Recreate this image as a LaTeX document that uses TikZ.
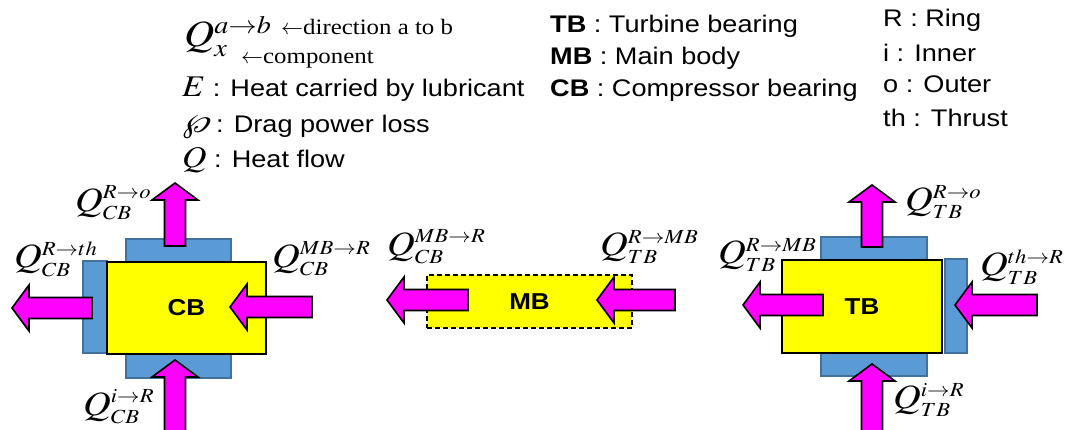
\documentclass[tikz,border=0pt]{standalone}
\usepackage{mathptmx}
\usepackage{graphicx}
\usepackage{fontspec}
\setmainfont{Liberation Sans}[FakeStretch=1.13]
\newfontfamily\timesf{Liberation Serif}[FakeStretch=1.13]
\DeclareMathSizes{34}{34}{20}{15}
\DeclareMathSizes{30}{30}{20}{15}
\DeclareMathSizes{37}{37}{25}{18}
\usetikzlibrary{calc}
\definecolor{arrowmag}{RGB}{255,0,255}
\definecolor{boxyellow}{RGB}{255,255,0}
\definecolor{platefill}{RGB}{91,155,213}
\definecolor{plateedge}{RGB}{65,113,156}
\newcommand{\stretchq}[1]{\scalebox{1.13}[1]{#1}}
\newcommand{\legmath}[1]{\stretchq{\fontsize{30}{32}\selectfont$#1$}}
\tikzset{
  legtext/.style={inner sep=0pt, anchor=base west, font=\fontsize{24}{28}\selectfont},
  legsmall/.style={inner sep=0pt, anchor=base west, font=\timesf\fontsize{22}{26}\selectfont},
  qlabel/.style={inner sep=0pt, anchor=west, font=\fontsize{34}{38}\selectfont},
  qlegend/.style={inner sep=0pt, anchor=base west, font=\fontsize{37}{40}\selectfont},
  plate/.style={draw=plateedge, fill=platefill, line width=1.2pt, inner sep=0pt},
  ybox/.style={draw=black, fill=boxyellow, line width=1.8pt, inner sep=0pt,
    font=\bfseries\fontsize{23}{27}\selectfont},
  mbbox/.style={ybox, dashed, dash pattern=on 5pt off 3pt},
  blockarr/.style={draw=black, fill=arrowmag, line width=1.6pt, line join=miter,
    to path={
      ($(\tikztostart)!10.5pt!90:(\tikztotarget)$)
      -- ($(\tikztotarget)!17pt!(\tikztostart)!10.5pt!90:(\tikztotarget)$)
      -- ($(\tikztotarget)!17pt!(\tikztostart)!23pt!90:(\tikztotarget)$)
      -- (\tikztotarget)
      -- ($(\tikztotarget)!17pt!(\tikztostart)!23pt!-90:(\tikztotarget)$)
      -- ($(\tikztotarget)!17pt!(\tikztostart)!10.5pt!-90:(\tikztotarget)$)
      -- ($(\tikztostart)!10.5pt!-90:(\tikztotarget)$)
      -- cycle}}
}
\begin{document}
\begin{tikzpicture}[x=1pt,y=-1pt]
\useasboundingbox (0,0) rectangle (1065,430);
\fill[white] (0,0) rectangle (1065,430);

% ---------- legend left ----------
\node[qlegend] (legq) at (184,47) {\stretchq{$Q^{a\rightarrow b}_{x}$}};
\node[legsmall] (legdir) at (281,35) {$\leftarrow$direction a to b};
\node[legsmall] (legcomp) at (241,64) {$\leftarrow$component};
\node[legtext] (lege) at (182,97) {\legmath{E} : Heat carried by lubricant};
\node[legtext] (legp) at (182,133) {\legmath{\wp} : Drag power loss};
\node[legtext] (legh) at (182,168) {\legmath{Q} : Heat flow};

% ---------- legend middle ----------
\node[legtext] (ltb) at (550,33) {\textbf{TB} : Turbine bearing};
\node[legtext] (lmb) at (550,65) {\textbf{MB} : Main body};
\node[legtext] (lcb) at (550,97) {\textbf{CB} : Compressor bearing};

% ---------- legend right ----------
\node[legtext] (lr) at (883,27) {R : Ring};
\node[legtext] (li) at (883,62) {i : Inner};
\node[legtext] (lo) at (883,93) {o : Outer};
\node[legtext] (lth) at (883,127) {th : Thrust};

% ---------- CB ----------
\node[plate, minimum width=105, minimum height=23] (cbtop) at (178.5,250.5) {};
\node[plate, minimum width=105, minimum height=24] (cbbot) at (178.5,366) {};
\node[plate, minimum width=24, minimum height=92] (cbleft) at (95,307) {};
\node[ybox, minimum width=159, minimum height=92] (cb) at (186.5,308) {CB};

% ---------- MB ----------
\node[mbbox, minimum width=205, minimum height=53] (mb) at (529.5,301.5) {MB};

% ---------- TB ----------
\node[plate, minimum width=106, minimum height=23] (tbtop) at (874,248.5) {};
\node[plate, minimum width=106, minimum height=23] (tbbot) at (874,364.5) {};
\node[plate, minimum width=22, minimum height=94] (tbright) at (956,306) {};
\node[ybox, minimum width=160, minimum height=93] (tb) at (862,306.5) {TB};

% ---------- arrow end points ----------
\coordinate (cbo-t) at (175,246);  \coordinate (cbo-h) at (175,183);
\coordinate (cbi-t) at (175,440);  \coordinate (cbi-h) at (175,360);
\coordinate (cbth-t) at (92,308);  \coordinate (cbth-h) at (12,308);
\coordinate (cbmb-t) at (312,307); \coordinate (cbmb-h) at (230,307);
\coordinate (mbl-t) at (468,300);  \coordinate (mbl-h) at (387,300);
\coordinate (mbr-t) at (675,300);  \coordinate (mbr-h) at (597,300);
\coordinate (tbo-t) at (872,247);  \coordinate (tbo-h) at (872,185);
\coordinate (tbi-t) at (872,440);  \coordinate (tbi-h) at (872,364);
\coordinate (tbmb-t) at (823,305); \coordinate (tbmb-h) at (743,305);
\coordinate (tbth-t) at (1037,305);\coordinate (tbth-h) at (955,305);

\draw[blockarr] (cbo-t) to (cbo-h);
\draw[blockarr] (cbi-t) to (cbi-h);
\draw[blockarr] (cbth-t) to (cbth-h);
\draw[blockarr] (cbmb-t) to (cbmb-h);
\draw[blockarr] (mbl-t) to (mbl-h);
\draw[blockarr] (mbr-t) to (mbr-h);
\draw[blockarr] (tbo-t) to (tbo-h);
\draw[blockarr] (tbi-t) to (tbi-h);
\draw[blockarr] (tbmb-t) to (tbmb-h);
\draw[blockarr] (tbth-t) to (tbth-h);

% ---------- heat flow labels ----------
\node[qlabel] (q1) at (75,203) {\stretchq{$Q_{CB}^{R\rightarrow o}$}};
\node[qlabel] (q2) at (14,259) {\stretchq{$Q_{CB}^{R\rightarrow th}$}};
\node[qlabel] (q3) at (272,259) {\stretchq{$Q_{CB}^{MB\rightarrow R}$}};
\node[qlabel] (q4) at (83,407) {\stretchq{$Q_{CB}^{i\rightarrow R}$}};
\node[qlabel] (q5) at (387,247) {\stretchq{$Q_{CB}^{MB\rightarrow R}$}};
\node[qlabel] (q6) at (600,247) {\stretchq{$Q_{TB}^{R\rightarrow MB}$}};
\node[qlabel] (q7) at (905,202) {\stretchq{$Q_{TB}^{R\rightarrow o}$}};
\node[qlabel] (q8) at (718,255) {\stretchq{$Q_{TB}^{R\rightarrow MB}$}};
\node[qlabel] (q9) at (980,267) {\stretchq{$Q_{TB}^{th\rightarrow R}$}};
\node[qlabel] (q10) at (893,400) {\stretchq{$Q_{TB}^{i\rightarrow R}$}};
\end{tikzpicture}
\end{document}
